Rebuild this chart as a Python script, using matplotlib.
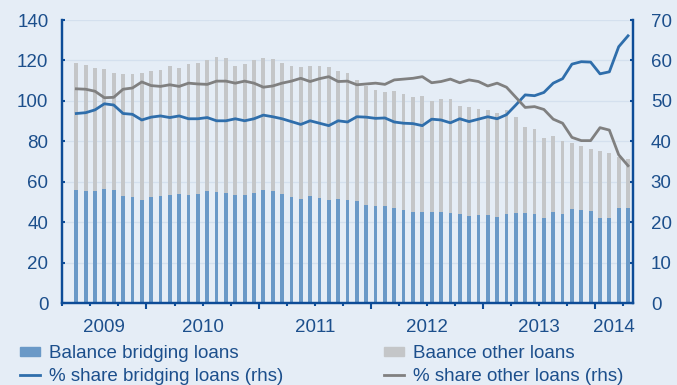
import numpy as np
import matplotlib
matplotlib.use("Agg")
import matplotlib.pyplot as plt
from matplotlib.patches import Patch
from matplotlib.lines import Line2D
from matplotlib.transforms import blended_transform_factory

plt.rcParams['font.family'] = ['Liberation Sans', 'DejaVu Sans']

# monthly data, May 2009 .. Apr 2014
bridging_balance = [56.0, 55.3, 55.3, 56.7, 56.0, 53.0, 52.6, 51.0, 52.6, 53.2,
                    53.7, 54.2, 53.7, 54.2, 55.5, 55.0, 54.7, 53.7, 53.7, 54.7,
                    56.1, 55.5, 54.2, 52.6, 51.6, 52.8, 52.1, 51.3, 51.4, 51.1,
                    50.6, 48.8, 47.9, 47.9, 46.9, 46.1, 45.3, 45.3, 45.3, 45.3,
                    44.5, 44.1, 43.3, 43.7, 43.7, 42.8, 44.1, 44.5, 44.5, 44.1,
                    42.3, 45.1, 44.1, 46.6, 46.1, 45.8, 42.3, 42.3, 47.1, 47.1]
total_balance = [118.9, 117.9, 116.4, 115.7, 114.0, 113.3, 113.3, 114.0, 114.7, 115.3,
                 117.4, 116.4, 118.3, 118.9, 120.2, 121.5, 121.0, 117.4, 118.3, 120.2,
                 121.0, 120.7, 118.9, 117.4, 116.9, 117.4, 117.4, 116.9, 115.0, 114.0,
                 110.4, 107.4, 105.4, 104.4, 104.9, 103.3, 102.1, 102.5, 100.0, 101.1,
                 100.8, 97.5, 97.2, 96.0, 95.7, 94.2, 95.7, 91.9, 87.0, 86.0,
                 81.9, 82.7, 80.4, 79.1, 77.7, 76.3, 75.3, 74.5, 72.5, 71.2]
other_balance = list(np.array(total_balance) - np.array(bridging_balance))

share_bridging = [46.9, 47.1, 47.8, 49.3, 49.0, 46.9, 46.7, 45.3, 46.0, 46.3,
                  45.9, 46.3, 45.6, 45.6, 45.9, 45.1, 45.1, 45.6, 45.1, 45.6,
                  46.5, 46.1, 45.6, 44.9, 44.2, 45.1, 44.5, 43.9, 45.1, 44.8,
                  46.1, 46.0, 45.7, 45.8, 44.8, 44.5, 44.4, 43.9, 45.5, 45.3,
                  44.6, 45.6, 44.9, 45.5, 46.1, 45.6, 46.6, 49.0, 51.5, 51.3,
                  52.1, 54.4, 55.5, 59.1, 59.7, 59.6, 56.7, 57.2, 63.4, 66.1]
share_other = [53.0, 52.9, 52.4, 50.8, 50.9, 52.9, 53.2, 54.7, 53.8, 53.6,
               54.0, 53.6, 54.4, 54.2, 54.1, 54.9, 54.9, 54.4, 54.9, 54.4,
               53.4, 53.7, 54.4, 54.9, 55.6, 54.8, 55.5, 56.0, 54.8, 54.9,
               54.0, 54.2, 54.4, 54.1, 55.2, 55.4, 55.6, 56.0, 54.5, 54.8,
               55.4, 54.5, 55.2, 54.8, 53.7, 54.4, 53.4, 50.9, 48.4, 48.6,
               47.9, 45.5, 44.5, 41.0, 40.2, 40.2, 43.4, 42.8, 36.7, 34.0]

years = ['2009', '2010', '2011', '2012', '2013', '2014']
year_pos = [4.0, 14.5, 26.5, 38.5, 50.5, 58.5]

bg = '#e5edf6'
navy = '#0d4c97'
txt = '#1c4f8c'
c_bar_b = '#6a99c7'
c_bar_o = '#c4c6c8'
c_line_b = '#2f6eab'
c_line_o = '#808080'
fs = 13.5

fig = plt.figure(figsize=(6.77, 3.85), dpi=100, facecolor=bg)
ax = fig.add_axes([0.092, 0.2122, 0.8426, 0.7358])
ax.set_facecolor(bg)

x = np.arange(1, len(bridging_balance) + 1)
ax.bar(x, bridging_balance, width=0.4, color=c_bar_b, zorder=2)
ax.bar(x, other_balance, width=0.4, bottom=bridging_balance, color=c_bar_o, zorder=2)

ax.set_xlim(-0.5, 60.5)
ax.set_ylim(0, 140)
ax.set_yticks(range(0, 141, 20))
for v in range(20, 141, 20):
    ax.axhline(v, color='#d4e0ee', lw=0.9, zorder=1)

ax.set_xticks(np.arange(8.5, 60, 12))
ax.set_xticks(np.arange(-0.5, 61, 3), minor=True)
ax.set_xticklabels([])
ax.tick_params(axis='x', which='major', direction='out', length=4.5, width=1.5, color=navy)
ax.tick_params(axis='x', which='minor', direction='out', length=2, width=1.5, color=navy)
ax.tick_params(axis='y', direction='in', length=2.5, width=1.5, color=navy,
               labelsize=fs, labelcolor=txt, pad=10)

trans = blended_transform_factory(ax.transData, ax.transAxes)
for yl, xp in zip(years, year_pos):
    ax.text(xp, -0.085, yl, transform=trans, ha='center', va='center',
            fontsize=fs, color=txt)

ax2 = ax.twinx()
ax2.plot(x, share_bridging, color=c_line_b, lw=2.0, zorder=3)
ax2.plot(x, share_other, color=c_line_o, lw=2.0, zorder=3)
ax2.set_ylim(0, 70)
ax2.set_yticks(range(0, 71, 10))
ax2.tick_params(axis='y', direction='in', length=2.5, width=1.5, color=navy,
                labelsize=fs, labelcolor=txt, pad=13)

for a in (ax, ax2):
    a.spines['top'].set_visible(False)
    for s in ('left', 'right', 'bottom'):
        a.spines[s].set_color(navy)
        a.spines[s].set_linewidth(1.6)

handles = [Patch(color=c_bar_b), Line2D([], [], color=c_line_b, lw=2.0),
           Patch(color=c_bar_o), Line2D([], [], color=c_line_o, lw=2.0)]
labels = ['Balance bridging loans', '% share bridging loans (rhs)',
          'Baance other loans', '% share other loans (rhs)']
leg = fig.legend(handles, labels, ncol=2, loc='upper left', bbox_to_anchor=(0.029, 0.103),
                 frameon=False, fontsize=fs, handlelength=1.07, handleheight=0.35,
                 handletextpad=0.48, columnspacing=5.37, labelspacing=0.28,
                 borderaxespad=0, borderpad=0)
for t in leg.get_texts():
    t.set_color(txt)

fig.savefig('out.png', dpi=100, facecolor=bg)
